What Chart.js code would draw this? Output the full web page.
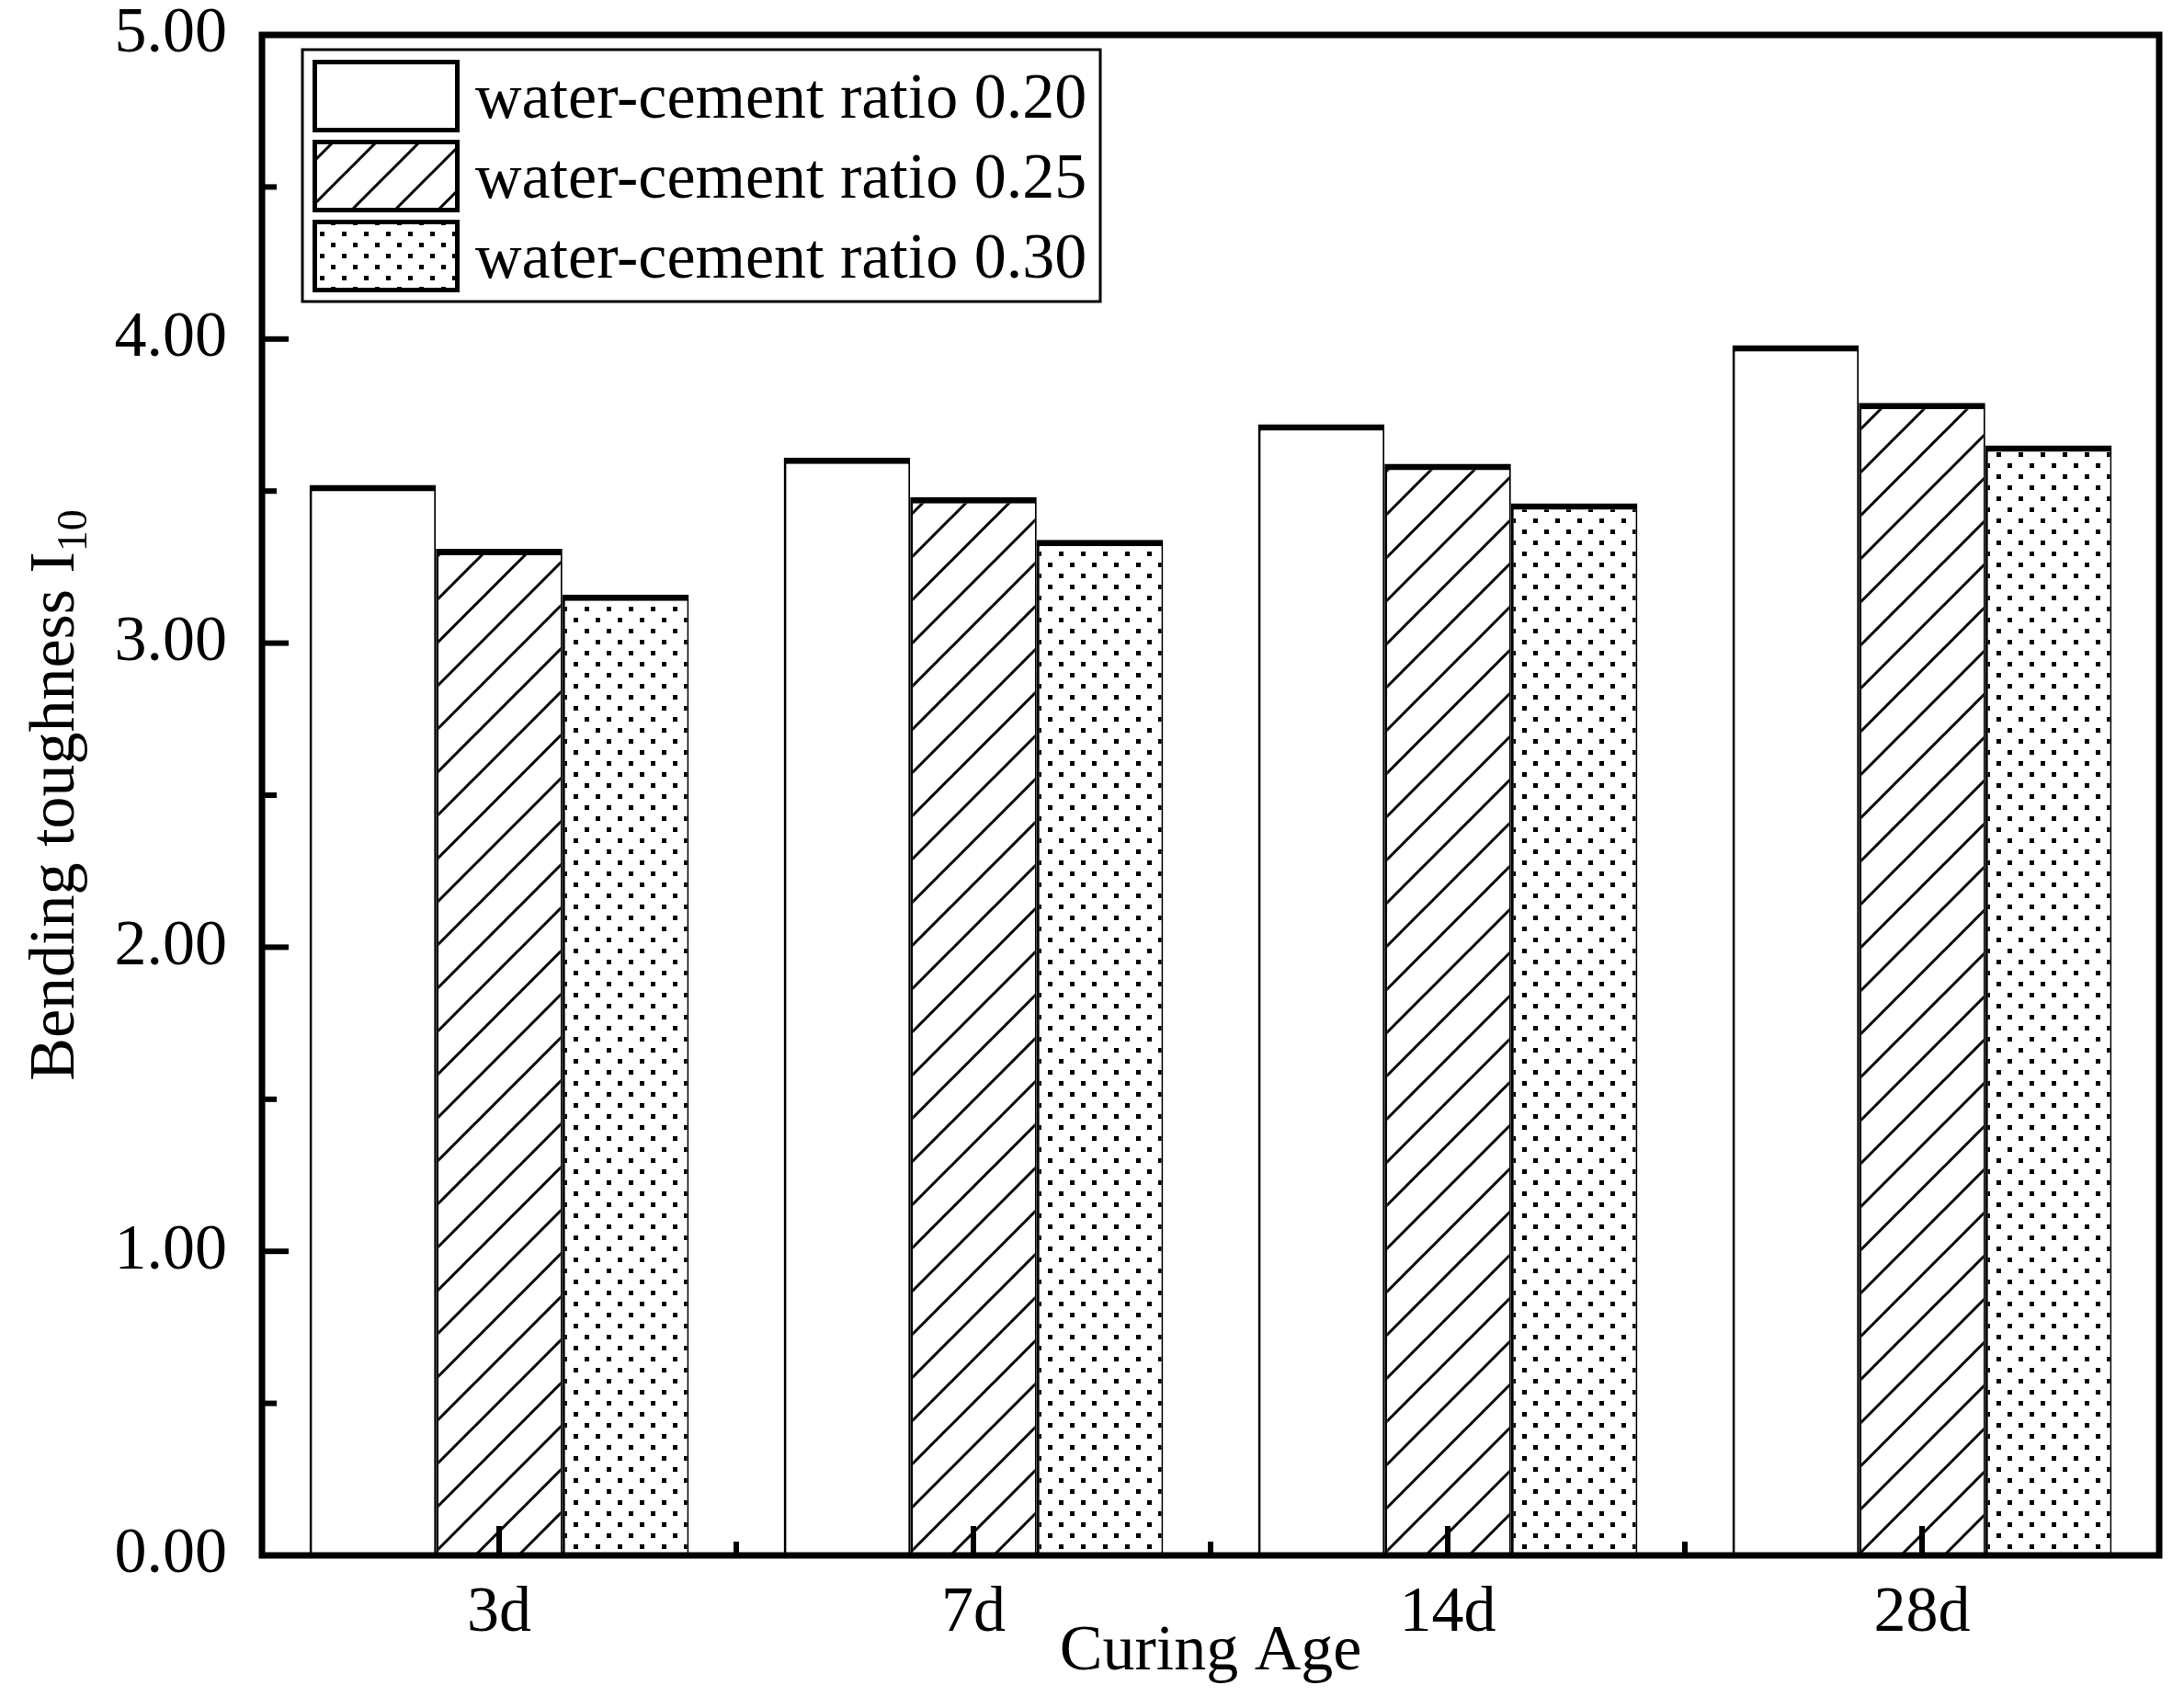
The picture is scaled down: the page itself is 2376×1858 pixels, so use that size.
<!DOCTYPE html>
<html>
<head>
<meta charset="utf-8">
<title>Bending toughness</title>
<script src="https://cdn.jsdelivr.net/npm/chart.js@4/dist/chart.umd.min.js"></script>
<style>
    html, body { margin: 0; padding: 0; background: #fff; }
    canvas { display: block; }
</style>
</head>
<body>
<canvas id="chart" width="2376" height="1858"></canvas>
<script>
// Dados
const curingAges = ['3d', '7d', '14d', '28d'];
const seriesLabels = ['water-cement ratio 0.20', 'water-cement ratio 0.25', 'water-cement ratio 0.30'];
const ratio020 = [3.52, 3.61, 3.72, 3.98];
const ratio025 = [3.31, 3.48, 3.59, 3.79];
const ratio030 = [3.16, 3.34, 3.46, 3.65];
const yTitle = 'Bending toughness I';
const yTitleSub = '10';
const xTitle = 'Curing Age';

const FONT = '"Liberation Serif", "Times New Roman", serif';

// Hachura diagonal "/"
function hatchPattern() {
    const s = 47;
    const c = document.createElement('canvas');
    c.width = s; c.height = s;
    const g = c.getContext('2d');
    g.fillStyle = '#fff';
    g.fillRect(0, 0, s, s);
    g.strokeStyle = '#000';
    g.lineWidth = 3;
    g.beginPath();
    g.moveTo(-2, s + 2); g.lineTo(s + 2, -2);
    g.moveTo(-2, 2); g.lineTo(2, -2);
    g.moveTo(s - 2, s + 2); g.lineTo(s + 2, s - 2);
    g.stroke();
    return g.createPattern(c, 'repeat');
}

// Pontilhado
function dotPattern() {
    const s = 24;
    const c = document.createElement('canvas');
    c.width = s; c.height = s;
    const g = c.getContext('2d');
    g.fillStyle = '#fff';
    g.fillRect(0, 0, s, s);
    g.fillStyle = '#000';
    g.fillRect(0, 0, 5, 5);
    g.fillRect(12, 12, 5, 5);
    return g.createPattern(c, 'repeat');
}

const fills = ['#ffffff', hatchPattern(), dotPattern()];

// Moldura, ticks internos, legenda e título do eixo y
const decorPlugin = {
    id: 'decor',
    beforeDraw(chart) {
        const ctx = chart.ctx;
        ctx.save();
        ctx.fillStyle = '#fff';
        ctx.fillRect(0, 0, chart.width, chart.height);
        ctx.restore();
    },
    afterDatasetsDraw(chart) {
        const ctx = chart.ctx;
        const area = chart.chartArea;
        const x = chart.scales.x;
        const y = chart.scales.y;
        ctx.save();
        ctx.strokeStyle = '#000';
        ctx.fillStyle = '#000';

        // ticks do eixo y (maiores e menores)
        for (let v = 0.5; v < 5; v += 0.5) {
            const py = y.getPixelForValue(v);
            const len = Number.isInteger(v) ? 29 : 16;
            ctx.fillRect(area.left, py - 3, len, 6);
        }

        // ticks do eixo x
        const n = curingAges.length;
        for (let i = 0; i < n; i++) {
            const px = x.getPixelForValue(i);
            ctx.fillRect(px - 3, area.bottom - 32, 6, 32);
        }
        for (let i = 1; i < n; i++) {
            const px = (x.getPixelForValue(i - 1) + x.getPixelForValue(i)) / 2;
            ctx.fillRect(px - 3, area.bottom - 15, 6, 15);
        }

        // moldura
        ctx.lineWidth = 7;
        ctx.strokeRect(area.left, area.top, area.right - area.left, area.bottom - area.top);

        // legenda
        const lx = 329, ly = 54, lw = 868, lh = 274;
        ctx.lineWidth = 3;
        ctx.strokeRect(lx, ly, lw, lh);
        ctx.font = '70px ' + FONT;
        ctx.textBaseline = 'alphabetic';
        ctx.textAlign = 'left';
        chart.data.datasets.forEach((ds, i) => {
            const top = 65 + i * 87;
            ctx.fillStyle = ds.backgroundColor;
            ctx.fillRect(340, top, 160, 79);
            ctx.lineWidth = 5;
            ctx.strokeRect(342.5, top + 2.5, 155, 74);
            ctx.fillStyle = '#000';
            ctx.fillText(ds.label, 517, top + 63);
        });

        // título do eixo y com subscrito
        ctx.font = '70px ' + FONT;
        const w1 = ctx.measureText(yTitle).width;
        ctx.font = '46px ' + FONT;
        const w2 = ctx.measureText(yTitleSub).width;
        const cy = (area.top + area.bottom) / 2;
        ctx.translate(80, cy + (w1 + w2) / 2);
        ctx.rotate(-Math.PI / 2);
        ctx.font = '70px ' + FONT;
        ctx.fillText(yTitle, 0, 0);
        ctx.font = '46px ' + FONT;
        ctx.fillText(yTitleSub, w1, 14);
        ctx.restore();
    }
};

const datasetValues = [ratio020, ratio025, ratio030];

new Chart(document.getElementById('chart'), {
    type: 'bar',
    data: {
        labels: curingAges,
        datasets: datasetValues.map((values, i) => ({
            label: seriesLabels[i],
            data: values,
            backgroundColor: fills[i],
            borderColor: '#000',
            borderWidth: { top: 7, left: 3, right: 2, bottom: 0 },
            borderSkipped: false,
            inflateAmount: 0,
            categoryPercentage: 0.8,
            barPercentage: 1.0
        }))
    },
    options: {
        responsive: false,
        animation: false,
        devicePixelRatio: 1,
        layout: { padding: { left: 0, top: 38, right: 27, bottom: 0 } },
        plugins: {
            legend: { display: false },
            tooltip: { enabled: false }
        },
        scales: {
            x: {
                offset: true,
                grid: { display: false, drawTicks: false },
                border: { display: false },
                ticks: {
                    padding: 22,
                    color: '#000',
                    font: { family: FONT, size: 70 },
                    maxRotation: 0
                },
                title: {
                    display: true,
                    text: xTitle,
                    color: '#000',
                    font: { family: FONT, size: 70 },
                    padding: { top: 0, bottom: 18 }
                },
                afterFit(scale) {
                    scale.height = 166;
                    scale.paddingLeft = 0;
                    scale.paddingRight = 0;
                }
            },
            y: {
                min: 0,
                max: 5,
                grid: { display: false, drawTicks: false },
                border: { display: false },
                ticks: {
                    stepSize: 1,
                    padding: 38,
                    color: '#000',
                    font: { family: FONT, size: 70 },
                    callback: (v) => Number(v).toFixed(2)
                },
                afterFit(scale) {
                    scale.width = 285;
                    scale.paddingTop = 0;
                    scale.paddingBottom = 0;
                }
            }
        }
    },
    plugins: [decorPlugin]
});
</script>
</body>
</html>
